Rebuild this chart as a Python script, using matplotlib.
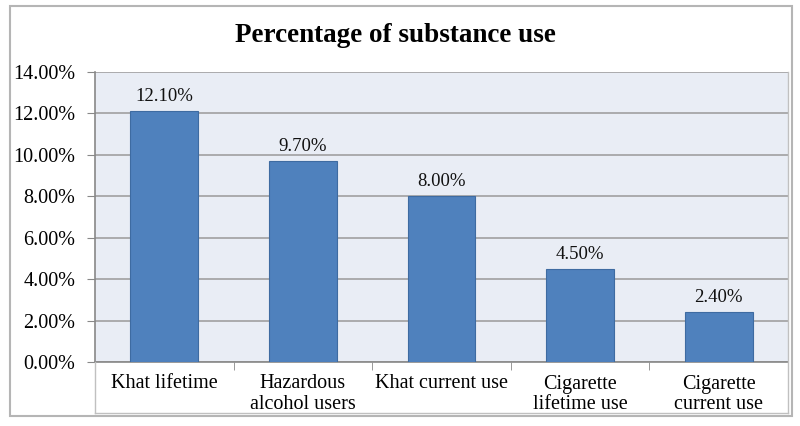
import matplotlib.pyplot as plt
from matplotlib.patches import Rectangle

# Data
categories = ["Khat lifetime", "Hazardous\nalcohol users", "Khat current use",
              "Cigarette\nlifetime use", "Cigarette\ncurrent use"]
values = [12.10, 9.70, 8.00, 4.50, 2.40]
yticks = [0, 2, 4, 6, 8, 10, 12, 14]

plt.rcParams['font.family'] = ['Liberation Serif', 'DejaVu Serif']

W, H = 800, 426
fig = plt.figure(figsize=(8, 4.26), dpi=100)

# axes position in pixels: left 95, right 788, top 72, bottom 362
ax = fig.add_axes([95 / W, 1 - 362 / H, (788 - 95) / W, (362 - 72) / H])
ax.set_facecolor('#e9edf5')

x = range(len(categories))
ax.bar(x, values, width=0.49, color='#4f81bd', edgecolor='#3e6ba1', linewidth=0.8, zorder=3)
for xi, v in zip(x, values):
    ax.text(xi, v + 0.3, f"{v:.2f}%", ha='center', va='bottom', fontsize=13.5, color='#111111')

ax.set_xlim(-0.5, len(categories) - 0.5)
ax.set_ylim(0, 14)
ax.set_yticks(yticks)
ax.set_yticklabels([f"{t:.2f}%" for t in yticks], fontsize=14.5)
ax.yaxis.grid(True, color='#a0a0a0', linewidth=1.2, zorder=1)
ax.set_axisbelow(True)

ax.set_xticks(list(x))
ax.set_xticklabels(categories, fontsize=14.5, linespacing=1.1)
ax.tick_params(axis='x', length=0, pad=9)
ax.tick_params(axis='y', length=6, color='#888888', pad=8)
# tick marks between categories
ax.set_xticks([i + 0.5 for i in range(len(categories) - 1)], minor=True)
ax.tick_params(axis='x', which='minor', length=6, color='#888888')

for side in ['top', 'right']:
    ax.spines[side].set_visible(False)
ax.spines['left'].set_color('#888888')
ax.spines['bottom'].set_color('#888888')
ax.spines['left'].set_linewidth(1.2)
ax.spines['bottom'].set_linewidth(1.2)

# right edge of plot area
fig.add_artist(plt.Line2D([788 / W, 788 / W], [1 - 413 / H, 1 - 72 / H], color='#c0c0c0', lw=1.0))
fig.add_artist(plt.Line2D([95 / W, 788 / W], [1 - 413 / H, 1 - 413 / H], color='#c0c0c0', lw=1.0))
fig.add_artist(plt.Line2D([95 / W, 95 / W], [1 - 413 / H, 1 - 362 / H], color='#c0c0c0', lw=1.0))

# outer chart border
fig.add_artist(Rectangle((10 / W, 1 - 416 / H), (792 - 10) / W, (416 - 6) / H,
                         transform=fig.transFigure, fill=False, edgecolor='#b5b5b5', lw=1.5))

fig.text(395 / W, 1 - 35 / H, "Percentage of substance use", ha='center', va='center',
         fontsize=19.5, fontweight='bold')

fig.savefig('out.png', dpi=100)
